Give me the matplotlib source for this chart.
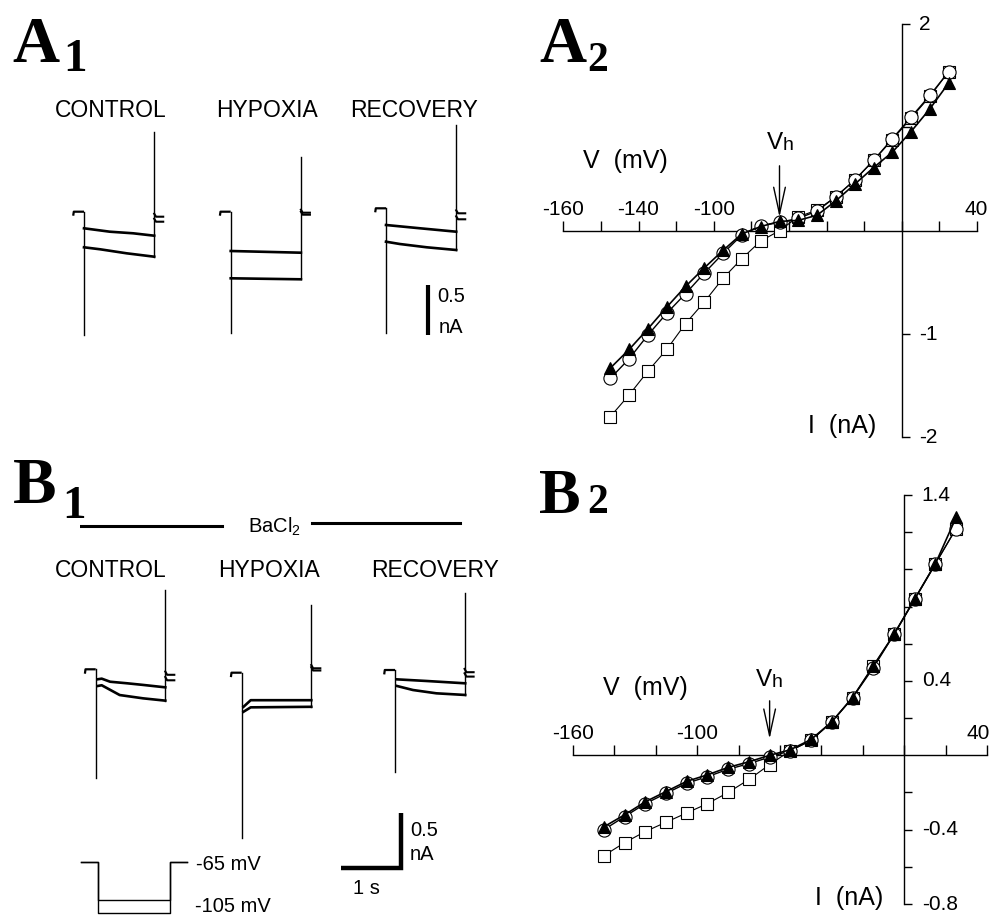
import matplotlib
matplotlib.use("Agg")
import matplotlib.pyplot as plt

plt.rcParams['font.family'] = ['Liberation Sans', 'DejaVu Sans']
plt.rcParams['mathtext.default'] = 'regular'

# ---------------- data ----------------
# I-V relations, panel A2 (V in mV, I in nA)
A2_V = [-155, -145, -135, -125, -115, -105, -95, -85, -75, -65, -55, -45, -35, -25, -15, -5, 5, 15, 25]
A2_control = [-1.43, -1.24, -1.01, -0.80, -0.61, -0.41, -0.22, -0.04, 0.05, 0.08, 0.12, 0.19, 0.33, 0.49, 0.68, 0.89, 1.10, 1.31, 1.54]
A2_hypoxia = [-1.80, -1.59, -1.36, -1.15, -0.90, -0.69, -0.46, -0.27, -0.10, 0.0, 0.135, 0.20, 0.33, 0.49, 0.68, 0.88, 1.09, 1.30, 1.54]
A2_recovery = [-1.33, -1.15, -0.95, -0.74, -0.54, -0.36, -0.19, -0.03, 0.04, 0.09, 0.10, 0.15, 0.29, 0.45, 0.61, 0.76, 0.96, 1.18, 1.43]
A2_xtick_pos = [-180, -140, -100, 39.5]
A2_xtick_lab = ['-160', '-140', '-100', '40']
A2_ytick_pos = [2, -1, -2]
A2_ytick_lab = ['2', '-1', '-2']

# I-V relations, panel B2 (BaCl2)
B2_V = [-145, -135, -125, -115, -105, -95, -85, -75, -65, -55, -45, -35, -25, -15, -5, 5, 15, 25]
B2_control = [-0.40, -0.33, -0.26, -0.205, -0.15, -0.115, -0.075, -0.045, -0.01, 0.025, 0.08, 0.18, 0.31, 0.47, 0.65, 0.84, 1.03, 1.22]
B2_hypoxia = [-0.54, -0.47, -0.41, -0.36, -0.31, -0.26, -0.20, -0.13, -0.05, 0.025, 0.08, 0.18, 0.31, 0.48, 0.65, 0.84, 1.03, 1.22]
B2_recovery = [-0.385, -0.32, -0.25, -0.195, -0.14, -0.105, -0.065, -0.035, 0.0, 0.03, 0.085, 0.18, 0.31, 0.48, 0.65, 0.84, 1.03, 1.28]
B2_xtick_pos = [-160, -100, 35.5]
B2_xtick_lab = ['-160', '-100', '40']
B2_ytick_pos = [1.4, 0.4, -0.4, -0.8]
B2_ytick_lab = ['1.4', '0.4', '-0.4', '-0.8']

V_hold = -65

# Current traces (time s from step onset, current nA relative to holding)
A1_T = 1.17
A1_ctrl_up_t = [0.0, 0.43, 0.82, 1.17]
A1_ctrl_up_i = [-0.166, -0.20, -0.216, -0.24]
A1_ctrl_lo_t = [0.0, 0.27, 0.71, 1.17]
A1_ctrl_lo_i = [-0.356, -0.376, -0.416, -0.45]
A1_ctrl_peaks = [-1.23, 0.80]
A1_ctrl_tail = [-0.05, -0.10]
A1_hyp_up_t = [0.0, 1.17]
A1_hyp_up_i = [-0.393, -0.41]
A1_hyp_lo_t = [0.0, 1.17]
A1_hyp_lo_i = [-0.666, -0.676]
A1_hyp_peaks = [-1.21, 0.55]
A1_hyp_tail = [-0.01, -0.03]
A1_rec_up_t = [0.0, 0.57, 1.17]
A1_rec_up_i = [-0.167, -0.20, -0.234]
A1_rec_lo_t = [0.0, 0.23, 0.68, 1.17]
A1_rec_lo_i = [-0.334, -0.357, -0.39, -0.417]
A1_rec_peaks = [-1.25, 0.83]
A1_rec_tail = [-0.05, -0.11]

B1_T = 1.16
B1_ctrl_up_t = [0.03, 0.10, 0.24, 0.52, 0.79, 1.16]
B1_ctrl_up_i = [-0.091, -0.085, -0.113, -0.127, -0.142, -0.164]
B1_ctrl_lo_t = [0.03, 0.10, 0.40, 0.79, 1.16]
B1_ctrl_lo_i = [-0.152, -0.145, -0.234, -0.264, -0.285]
B1_ctrl_peaks = [-0.99, 0.72]
B1_ctrl_tail = [-0.05, -0.10]
B1_hyp_up_t = [0.03, 0.15, 1.16]
B1_hyp_up_i = [-0.31, -0.25, -0.25]
B1_hyp_lo_t = [0.03, 0.15, 1.16]
B1_hyp_lo_i = [-0.355, -0.315, -0.31]
B1_hyp_peaks = [-1.50, 0.615]
B1_hyp_tail = [0.04, 0.02]
B1_rec_up_t = [0.03, 0.53, 1.17]
B1_rec_up_i = [-0.085, -0.10, -0.121]
B1_rec_lo_t = [0.03, 0.30, 0.69, 1.17]
B1_rec_lo_i = [-0.145, -0.182, -0.212, -0.227]
B1_rec_peaks = [-0.93, 0.70]
B1_rec_tail = [-0.02, -0.06]

pre_t = -0.18
tail_len = 0.15

# voltage protocol (mV)
prot_hold = -65
prot_steps = [-95, -105]
prot_T = 1.19

# scale bars
bar_current = 0.5
bar_time = 1.0

conditions = ['CONTROL', 'HYPOXIA', 'RECOVERY']

# ---------------- layout helpers ----------------
W, H = 996, 917
fig = plt.figure(figsize=(W / 100, H / 100), dpi=100)


def px_axes(ox, oy, sx, sy, xlim, ylim):
    left = ox + xlim[0] * sx
    right = ox + xlim[1] * sx
    top = oy - ylim[1] * sy
    bottom = oy - ylim[0] * sy
    ax = fig.add_axes([left / W, 1 - bottom / H, (right - left) / W, (bottom - top) / H])
    ax.set_xlim(*xlim)
    ax.set_ylim(*ylim)
    ax.axis('off')
    return ax


def ftext(x, y, s, **kw):
    fig.text(x / W, 1 - y / H, s, **kw)


def draw_trace(ox, oy, sy, T, up_t, up_i, lo_t, lo_i, peaks, tail):
    ax = px_axes(ox, oy, 60, sy, (-0.4, 1.6), (-1.7, 1.0))
    ax.plot([pre_t, pre_t + 0.01, 0], [-0.04, 0, 0], color='k', lw=1.6, solid_capstyle='butt')
    ax.plot([0, 0], [0, peaks[0]], color='k', lw=1.0)
    ax.plot([T, T], [min(up_i[-1], lo_i[-1]), peaks[1]], color='k', lw=1.0)
    ax.plot(up_t, up_i, color='k', lw=1.9)
    ax.plot(lo_t, lo_i, color='k', lw=1.9)
    for lev in tail:
        ax.plot([T, T + 0.03, T + tail_len], [lev + 0.03, lev, lev], color='k', lw=1.5)
    return ax


# ---------------- panel letters ----------------
serif = ['Liberation Serif', 'DejaVu Serif']
ftext(12, 62, 'A', fontsize=47, fontweight='bold', family=serif, va='baseline')
ftext(63, 71, '1', fontsize=34, fontweight='bold', family=serif, va='baseline')
ftext(539, 62, 'A', fontsize=47, fontweight='bold', family=serif, va='baseline')
ftext(587, 71, '2', fontsize=30, fontweight='bold', family=serif, va='baseline')
ftext(13, 503, 'B', fontsize=47, fontweight='bold', family=serif, va='baseline')
ftext(62, 518, '1', fontsize=34, fontweight='bold', family=serif, va='baseline')
ftext(539, 513, 'B', fontsize=45, fontweight='bold', family=serif, va='baseline')
ftext(587, 513, '2', fontsize=30, fontweight='bold', family=serif, va='baseline')

# ---------------- A1 ----------------
for x, name in zip([111, 267, 414], conditions):
    ftext(x, 117, name, fontsize=16.5, ha='center', va='baseline')

draw_trace(84, 211.7, 100, A1_T, A1_ctrl_up_t, A1_ctrl_up_i, A1_ctrl_lo_t, A1_ctrl_lo_i, A1_ctrl_peaks, A1_ctrl_tail)
draw_trace(230.7, 211.7, 100, A1_T, A1_hyp_up_t, A1_hyp_up_i, A1_hyp_lo_t, A1_hyp_lo_i, A1_hyp_peaks, A1_hyp_tail)
draw_trace(386, 208.3, 100, A1_T, A1_rec_up_t, A1_rec_up_i, A1_rec_lo_t, A1_rec_lo_i, A1_rec_peaks, A1_rec_tail)

sb = px_axes(428.3, 335, 60, 100, (-0.2, 0.2), (-0.1, 0.6))
sb.plot([0, 0], [0, bar_current], color='k', lw=3, solid_capstyle='butt')
ftext(437, 296, '0.5', fontsize=14.5, va='center')
ftext(439, 327, 'nA', fontsize=14.5, va='center')

# ---------------- B1 ----------------
ftext(248, 533, r'BaCl$_{2}$', fontsize=14.5, va='baseline')
bl = px_axes(80, 526, 1, 1, (0, 385), (-10, 10))
bl.plot([0, 142], [0, 0], color='k', lw=2.2)
bl.plot([232, 380], [3, 3], color='k', lw=2.2)

for x, name in zip([111, 269, 435], conditions):
    ftext(x, 577, name, fontsize=16.5, ha='center', va='baseline')

draw_trace(95.7, 669.3, 110, B1_T, B1_ctrl_up_t, B1_ctrl_up_i, B1_ctrl_lo_t, B1_ctrl_lo_i, B1_ctrl_peaks, B1_ctrl_tail)
draw_trace(241.7, 672.7, 110, B1_T, B1_hyp_up_t, B1_hyp_up_i, B1_hyp_lo_t, B1_hyp_lo_i, B1_hyp_peaks, B1_hyp_tail)
draw_trace(395, 670, 110, B1_T, B1_rec_up_t, B1_rec_up_i, B1_rec_lo_t, B1_rec_lo_i, B1_rec_peaks, B1_rec_tail)

sb2 = px_axes(400.7, 867.7, 60, 110, (-1.2, 0.2), (-0.1, 0.6))
sb2.plot([-bar_time, 0, 0], [0, 0, bar_current], color='k', lw=3.2,
         solid_joinstyle='miter', solid_capstyle='butt')
ftext(410, 830, '0.5', fontsize=14.5, va='center')
ftext(410, 854, 'nA', fontsize=14.5, va='center')
ftext(366, 889, '1 s', fontsize=14.5, ha='center', va='center')

# voltage protocol
pa = px_axes(98.3, 861.7 - 65 * 1.29, 60, 1.29, (-0.35, 1.6), (-112, -60))
for v in prot_steps:
    pa.plot([-0.29, 0, 0, prot_T, prot_T, prot_T + 0.28],
            [prot_hold, prot_hold, v, v, prot_hold, prot_hold], color='k', lw=1.0)
ftext(196, 865, '-65 mV', fontsize=14.5, va='center')
ftext(195, 907, '-105 mV', fontsize=14.5, va='center')


# ---------------- I-V panels ----------------
def iv_panel(ax, V, ctrl, hyp, rec, xb, yb, xticks, yticks, xlab_pos, xlab, ylab_pos, ylab,
             arrow_top, arrow_bot):
    ax.axis('on')
    for s in ['top', 'right']:
        ax.spines[s].set_visible(False)
    ax.patch.set_alpha(0)
    ax.spines['left'].set_position(('data', 0))
    ax.spines['bottom'].set_position(('data', 0))
    ax.spines['left'].set_bounds(*yb)
    ax.spines['bottom'].set_bounds(*xb)
    ax.spines['left'].set_linewidth(1.0)
    ax.spines['bottom'].set_linewidth(1.0)
    ax.set_xticks(xticks)
    ax.set_yticks(yticks)
    ax.tick_params(axis='x', direction='in', length=7.5, width=1.0, labelbottom=False)
    ax.tick_params(axis='y', direction='in', length=5.5, width=1.0, labelleft=False)
    ax.plot(V, hyp, '-', color='k', lw=0.8, marker='s', ms=8, mfc='white', mec='k', mew=0.8,
            clip_on=False, zorder=3)
    ax.plot(V, ctrl, '-', color='k', lw=1.0, marker='o', ms=9.5, mfc='white', mec='k', mew=0.8,
            clip_on=False, zorder=4)
    ax.plot(V, rec, '-', color='k', lw=1.2, marker='^', ms=9, mfc='k', mec='k', mew=0.8,
            clip_on=False, zorder=5)
    for p, l in zip(xlab_pos, xlab):
        ax.annotate(l, xy=(p, 0), xytext=(0, 11.5), textcoords='offset points',
                    ha='center', va='baseline', fontsize=15, annotation_clip=False)
    for p, l in zip(ylab_pos, ylab):
        ax.annotate(l, xy=(0, p), xytext=(12.5, 0), textcoords='offset points',
                    ha='left', va='center', fontsize=15, annotation_clip=False)
    ax.annotate('', xy=(V_hold, arrow_bot), xytext=(V_hold, arrow_top),
                arrowprops=dict(arrowstyle='->, head_length=1.6, head_width=0.35',
                                mutation_scale=12, lw=1.0, color='k'),
                annotation_clip=False)


a2 = px_axes(901.7, 230.7, 1.880, 103.3, (-180, 40), (-2, 2))
iv_panel(a2, A2_V, A2_control, A2_hypoxia, A2_recovery, (-180, 40), (-2, 2),
         list(range(-180, 41, 20)), [-2, -1, 1, 2], A2_xtick_pos, A2_xtick_lab,
         A2_ytick_pos, A2_ytick_lab, 0.655, 0.104)
ftext(583, 168, 'V  (mV)', fontsize=18, va='baseline')
ftext(767, 149, 'V', fontsize=17.5, va='baseline')
ftext(783, 150, 'h', fontsize=14, va='baseline')
ftext(808, 433, 'I  (nA)', fontsize=18, va='baseline')

b2 = px_axes(904.3, 755.3, 2.072, 185.9, (-160, 40), (-0.8, 1.4))
b2_yt = [-0.8, -0.6, -0.4, -0.2, 0.2, 0.4, 0.6, 0.8, 1.0, 1.2, 1.4]
iv_panel(b2, B2_V, B2_control, B2_hypoxia, B2_recovery, (-160, 40), (-0.8, 1.4),
         list(range(-160, 41, 20)), b2_yt, B2_xtick_pos, B2_xtick_lab,
         B2_ytick_pos, B2_ytick_lab, 0.308, 0.073)
ftext(603, 695, 'V  (mV)', fontsize=18, va='baseline')
ftext(756, 686, 'V', fontsize=17.5, va='baseline')
ftext(772, 687, 'h', fontsize=14, va='baseline')
ftext(815, 905, 'I  (nA)', fontsize=18, va='baseline')

fig.savefig('out.png', dpi=100)
